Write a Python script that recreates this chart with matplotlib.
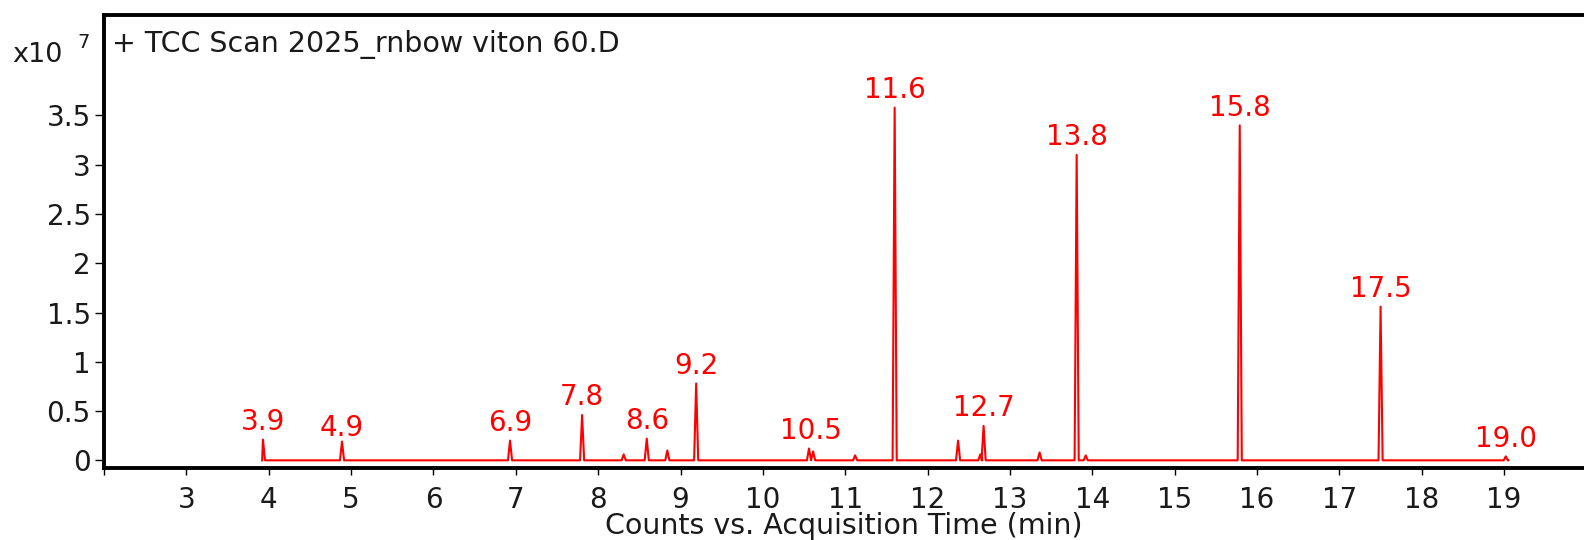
import matplotlib
matplotlib.use('Agg')
import matplotlib.pyplot as plt

plt.rcParams['font.family'] = ['DejaVu Sans']

# ---- data ----
trace_start = 3.92
trace_end = 19.05
peak_times = [3.93, 4.89, 6.93, 7.805, 8.31, 8.59, 8.84, 9.19, 10.56, 10.61,
              11.12, 11.60, 12.37, 12.64, 12.68, 13.36, 13.81, 13.92, 15.79,
              17.50, 19.02]
peak_heights = [0.21, 0.19, 0.20, 0.46, 0.06, 0.22, 0.10, 0.78, 0.12, 0.09,
                0.05, 3.58, 0.20, 0.06, 0.35, 0.08, 3.10, 0.05, 3.40,
                1.56, 0.04]

label_texts = ["3.9", "4.9", "6.9", "7.8", "8.6", "9.2", "10.5", "11.6",
               "12.7", "13.8", "15.8", "17.5", "19.0"]
label_times = [3.93, 4.89, 6.93, 7.805, 8.59, 9.19, 10.58, 11.60, 12.68,
               13.81, 15.79, 17.50, 19.02]
label_heights = [0.21, 0.15, 0.20, 0.46, 0.22, 0.78, 0.12, 3.58, 0.35,
                 3.10, 3.40, 1.56, 0.04]

x_ticks = list(range(2, 20))
x_tick_labels = [""] + [str(v) for v in range(3, 20)]
y_ticks = [0, 0.5, 1, 1.5, 2, 2.5, 3, 3.5]
y_tick_labels = ["0", "0.5", "1", "1.5", "2", "2.5", "3", "3.5"]

title_text = "+ TCC Scan 2025_rnbow viton 60.D"
x_label = "Counts vs. Acquisition Time (min)"

# ---- build trace (narrow peaks on a flat baseline) ----
hw = 0.025
xs = [trace_start]
ys = [0.0]
for t, h in zip(peak_times, peak_heights):
    xs += [max(t - hw, trace_start), t, t + hw]
    ys += [0.0, h, 0.0]
xs.append(trace_end)
ys.append(0.0)

W, H = 1584, 540
fig = plt.figure(figsize=(W / 100, H / 100), dpi=100)
left_px, right_px, top_px, bottom_px = 104, 1584, 15, 468.3
ax = fig.add_axes([left_px / W, (H - bottom_px) / H,
                   (right_px - left_px) / W, (bottom_px - top_px) / H])

ax.plot(xs, ys, color='#ff0000', lw=1.5)

for txt, t, h in zip(label_texts, label_times, label_heights):
    ax.annotate(txt, (t, h), xytext=(0, 7), textcoords='offset points',
                ha='center', va='baseline', color='#ff0000', fontsize=20)

ax.set_xlim(2, 2 + (right_px - left_px) / 82.36)
ax.set_ylim(-0.081, 4.52)

ax.set_xticks(x_ticks)
ax.set_xticklabels(x_tick_labels)
ax.set_yticks(y_ticks)
ax.set_yticklabels(y_tick_labels)
ax.tick_params(axis='x', direction='out', length=5, width=1, pad=8,
               labelsize=20, colors='black')
ax.tick_params(axis='y', direction='out', length=6.5, width=1, pad=3,
               labelsize=20, colors='black')
for lbl in ax.get_xticklabels() + ax.get_yticklabels():
    lbl.set_color('#1a1a1a')

for s in ['left', 'top', 'bottom']:
    ax.spines[s].set_linewidth(2.8)
    ax.spines[s].set_color('black')
ax.spines['right'].set_visible(False)

ax.set_xlabel(x_label, fontsize=20.5, labelpad=-1.5, color='#1a1a1a')

ax.text(0.0054, 0.935, title_text, transform=ax.transAxes, ha='left',
        va='center', fontsize=20.5, color='#1a1a1a')

fig.text(12 / W, 1 - 55 / H, "x10", ha='left', va='center', fontsize=19.5,
         color='#1a1a1a')
fig.text(77 / W, 1 - 43 / H, "7", ha='left', va='center', fontsize=14,
         color='#1a1a1a')

fig.savefig('out.png', dpi=100)
